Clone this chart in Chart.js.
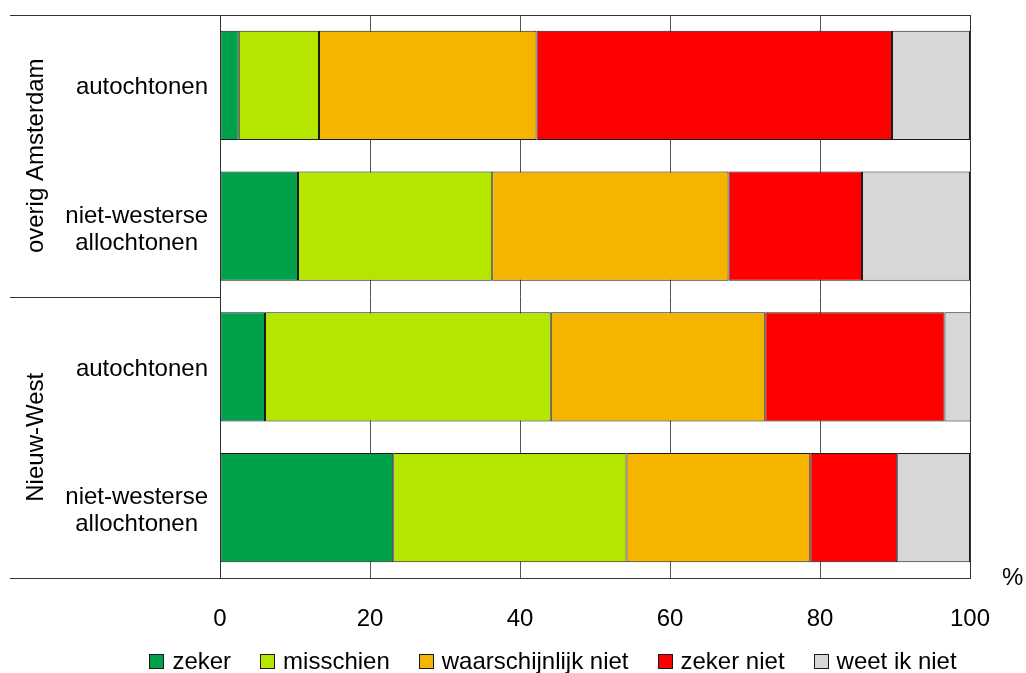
<!DOCTYPE html>
<html>
<head>
<meta charset="utf-8">
<script src="https://cdn.jsdelivr.net/npm/chart.js@4.4.1/dist/chart.umd.min.js"></script>
<style>
    body { margin: 0; background: #fff; }
    #myGraph { display: block; }
</style>
</head>
<body>
<canvas id="myGraph" width="1026" height="673"></canvas>
<script>
////////////////DATA//////////////////

const rowLabels = [["autochtonen"], ["niet-westerse", "allochtonen"], ["autochtonen"], ["niet-westerse", "allochtonen"]];
const groupLabels = ["overig Amsterdam", "Nieuw-West"];
const seriesNames = ["zeker", "misschien", "waarschijnlijk niet", "zeker niet", "weet ik niet"];
const seriesColors = ["#00a14b", "#b5e600", "#f5b400", "#ff0000", "#d7d7d7"];

const zeker = [2.5, 10.4, 6.0, 23.1];
const misschien = [10.7, 25.9, 38.1, 31.1];
const waarschijnlijkNiet = [29.0, 31.5, 28.6, 24.5];
const zekerNiet = [47.4, 17.8, 23.9, 11.6];
const weetIkNiet = [10.4, 14.4, 3.5, 9.7];

const xTicks = [0, 20, 40, 60, 80, 100];
const unitLabel = "%";

////////////////EXTRA DRAWING (frame, labels, legend)//////////////////

const FONT = "'Liberation Sans', Arial, sans-serif";

const framePlugin = {
    id: "frame",
    afterDraw(chart) {
        var c = chart.ctx;
        var area = chart.chartArea;
        var yScale = chart.scales.y;

        c.save();
        c.strokeStyle = "#333";
        c.lineWidth = 1;

        // top, bottom and right border, plus the group separator to the left
        var sep = Math.round((yScale.getPixelForValue(1) + yScale.getPixelForValue(2)) / 2) + 0.5;
        c.beginPath();
        c.moveTo(10, Math.round(area.top) + 0.5);
        c.lineTo(area.right, Math.round(area.top) + 0.5);
        c.moveTo(10, Math.round(area.bottom) + 0.5);
        c.lineTo(area.right, Math.round(area.bottom) + 0.5);
        c.moveTo(Math.round(area.right) + 0.5, area.top);
        c.lineTo(Math.round(area.right) + 0.5, area.bottom);
        c.moveTo(10, sep);
        c.lineTo(area.left, sep);
        c.stroke();

        // row labels, lines centred on each other, block right aligned
        c.fillStyle = "#000";
        c.font = "24px " + FONT;
        c.textAlign = "center";
        c.textBaseline = "middle";
        for (var i = 0; i < rowLabels.length; i++) {
            var lines = rowLabels[i];
            var w = 0;
            lines.forEach(function (l) { w = Math.max(w, c.measureText(l).width); });
            var cx = area.left - 12 - w / 2;
            var cy = yScale.getPixelForValue(i) + 2 + (lines.length - 1) * 1.5;
            for (var j = 0; j < lines.length; j++) {
                c.fillText(lines[j], cx, cy + (j - (lines.length - 1) / 2) * 27);
            }
        }

        // group labels, rotated
        for (var g = 0; g < groupLabels.length; g++) {
            var gy = (yScale.getPixelForValue(g * 2) + yScale.getPixelForValue(g * 2 + 1)) / 2;
            c.save();
            c.translate(36, gy);
            c.rotate(-Math.PI / 2);
            c.fillText(groupLabels[g], 0, 0);
            c.restore();
        }

        c.textAlign = "left";
        c.fillText(unitLabel, area.right + 32, area.bottom);

        // legend, one row, centred a bit right of the canvas middle
        var boxSize = 14, gap = 9, space = 29;
        var total = 0;
        seriesNames.forEach(function (n) { total += boxSize + gap + c.measureText(n).width; });
        total += space * (seriesNames.length - 1);
        var x = 553 - total / 2;
        var ly = area.bottom + 84;
        c.lineWidth = 1;
        c.strokeStyle = "#1a1a1a";
        seriesNames.forEach(function (n, k) {
            c.fillStyle = seriesColors[k];
            c.fillRect(Math.round(x) + 0.5, ly - 7.5, boxSize, boxSize);
            c.strokeRect(Math.round(x) + 0.5, ly - 7.5, boxSize, boxSize);
            c.fillStyle = "#000";
            c.fillText(n, x + boxSize + gap, ly);
            x += boxSize + gap + c.measureText(n).width + space;
        });
        c.restore();
    }
};

////////////////GRAPH THE DATA//////////////////

const ctx = document.getElementById("myGraph");
const allSeries = [zeker, misschien, waarschijnlijkNiet, zekerNiet, weetIkNiet];

Chart.defaults.font.family = FONT;
Chart.defaults.color = "#000";

let myChart = new Chart(ctx, {
    type: "bar",
    data: {
        labels: rowLabels.map(function (l) { return l.join(" "); }),
        datasets: allSeries.map(function (values, i) {
            return {
                label: seriesNames[i],
                data: values,
                backgroundColor: seriesColors[i],
                borderColor: "#1a1a1a",
                borderWidth: 1,
                borderSkipped: false,
                categoryPercentage: 1,
                barPercentage: 0.775
            };
        })
    },
    options: {
        indexAxis: "y",
        responsive: false,
        animation: false,
        devicePixelRatio: 1,
        layout: {
            padding: { left: 0, right: 56, top: 15, bottom: 35 }
        },
        scales: {
            x: {
                stacked: true,
                min: 0,
                max: 100,
                afterBuildTicks: function (scale) {
                    scale.ticks = xTicks.map(function (v) { return { value: v }; });
                },
                afterFit: function (scale) { scale.height = 60; },
                grid: { color: "#555", lineWidth: 1, drawTicks: false },
                border: { display: true, color: "#333" },
                ticks: { padding: 27, font: { size: 24 }, color: "#000" }
            },
            y: {
                stacked: true,
                afterFit: function (scale) { scale.width = 220; },
                grid: { display: false },
                border: { display: true, color: "#333" },
                ticks: { display: false }
            }
        },
        plugins: {
            legend: { display: false },
            tooltip: { enabled: false }
        }
    },
    plugins: [framePlugin]
});
</script>
</body>
</html>
